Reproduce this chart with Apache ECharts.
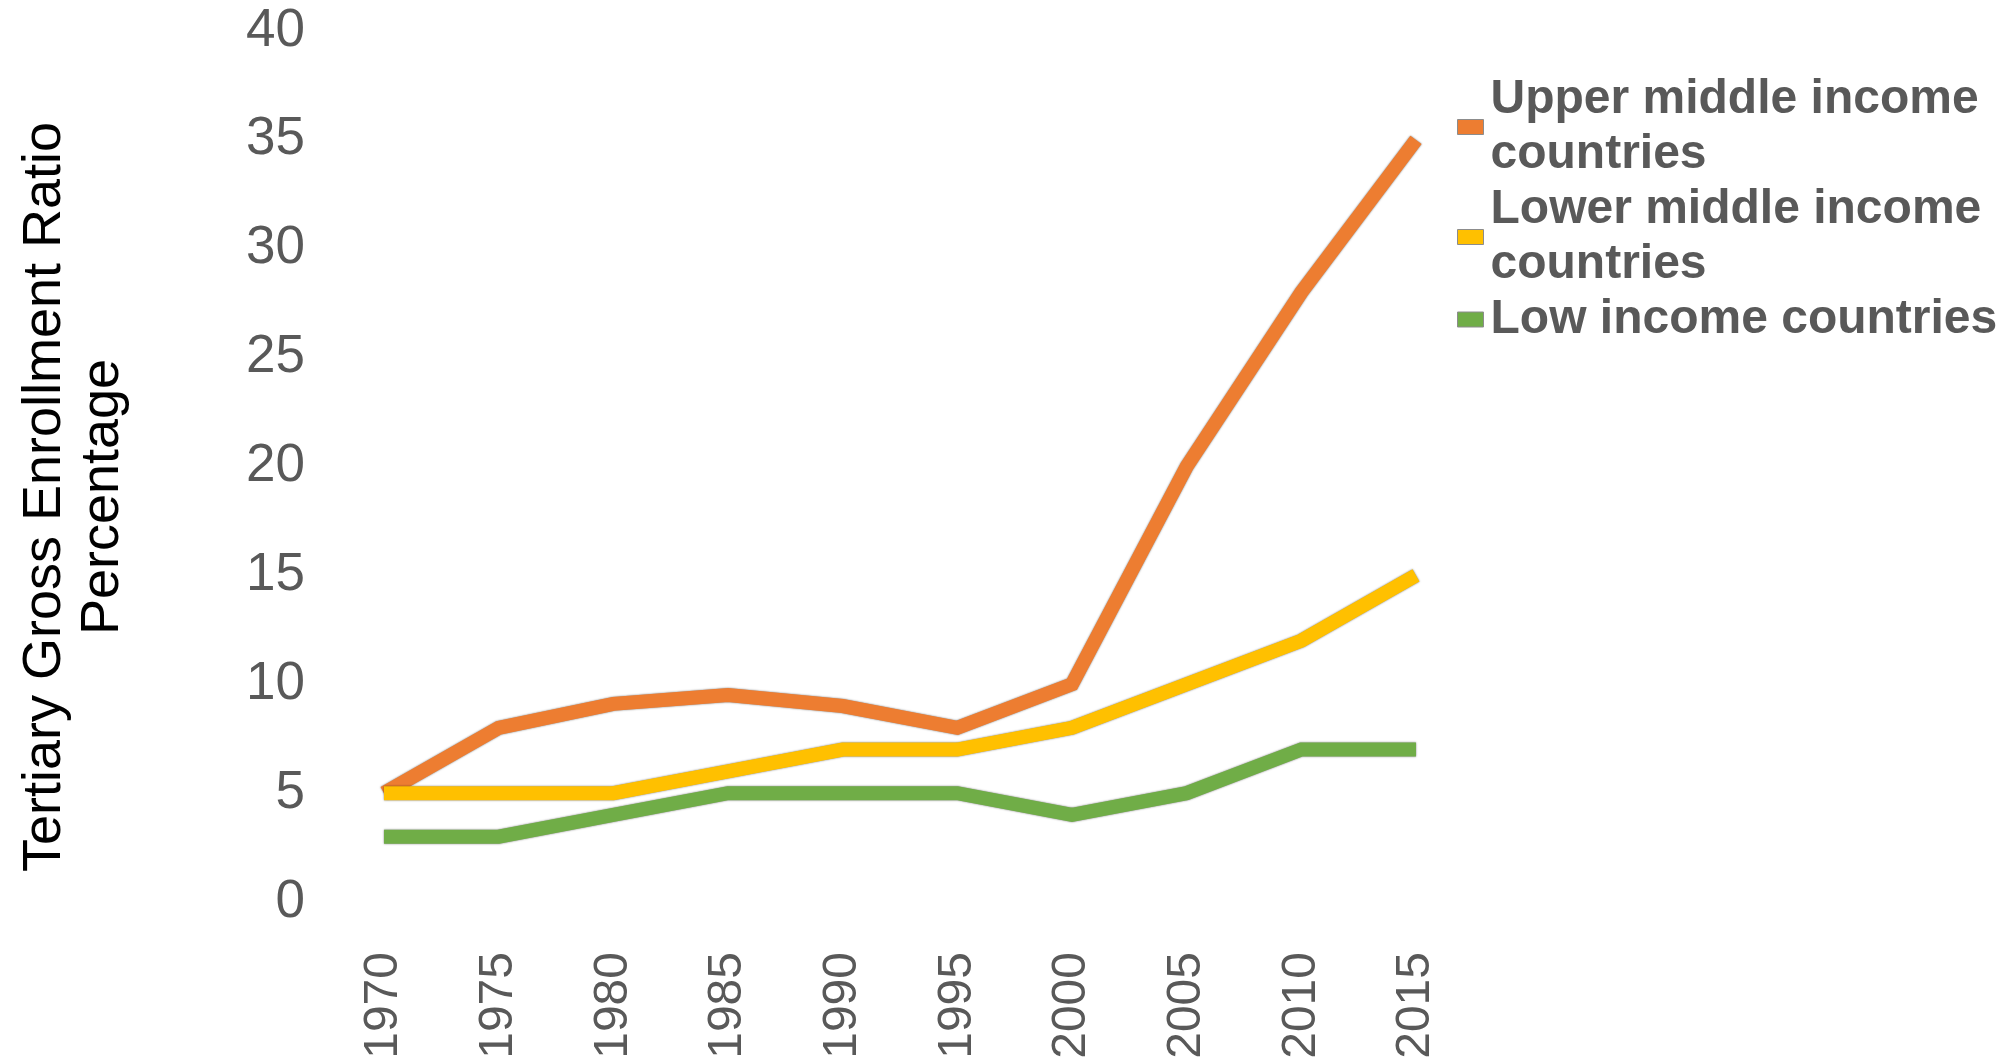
<!DOCTYPE html>
<html lang="en">
<head>
    <meta charset="UTF-8">
    <title>Tertiary Gross Enrollment Ratio</title>
    <style>
        html, body { margin: 0; padding: 0; background: #fff; }
        #main { width: 2013px; height: 1063px; }
    </style>
</head>
<body>
    <div id="main"></div>
    <script src="https://cdn.jsdelivr.net/npm/echarts@6/dist/echarts.min.js"></script>
    <script>
        // data
        var years = ['1970', '1975', '1980', '1985', '1990', '1995', '2000', '2005', '2010', '2015'];
        var upperMiddle = [5, 8, 9.1, 9.5, 9, 8, 10, 20, 28, 35];
        var lowerMiddle = [5, 5, 5, 6, 7, 7, 8, 10, 12, 15];
        var lowIncome = [3, 3, 4, 5, 5, 5, 4, 5, 7, 7];
        var yTicks = [0, 40, 5]; // min, max, step

        var fontName = 'Liberation Sans, Arial, sans-serif';
        var grey = '#595959';

        function lineSeries(name, data, color) {
            return {
                name: name,
                type: 'line',
                data: data,
                symbol: 'none',
                lineStyle: {
                    width: 14,
                    color: color,
                    cap: 'butt',
                    join: 'miter',
                    shadowColor: 'rgba(0,0,0,0.55)',
                    shadowBlur: 2
                },
                itemStyle: { color: color, borderColor: '#8c8c8c', borderWidth: 1 }
            };
        }

        var chart = echarts.init(document.getElementById('main'));

        var option = {
            animation: false,
            grid: { left: 384, right: 597, top: 31, bottom: 161 },
            graphic: [{
                type: 'text',
                x: 74,
                y: 497,
                rotation: Math.PI / 2,
                style: {
                    text: 'Tertiary Gross Enrollment Ratio\nPercentage',
                    font: '54px ' + fontName,
                    fill: '#000',
                    align: 'center',
                    verticalAlign: 'middle',
                    lineHeight: 58
                }
            }],
            legend: {
                orient: 'vertical',
                left: 1457,
                top: 72,
                padding: 0,
                itemGap: 0,
                itemWidth: 26,
                itemHeight: 15,
                icon: 'rect',
                itemStyle: { borderColor: '#8c8c8c', borderWidth: 1 },
                textStyle: {
                    fontFamily: fontName,
                    fontSize: 48,
                    fontWeight: 'bold',
                    color: grey,
                    lineHeight: 55,
                    padding: [0, 0, 0, 2]
                },
                data: ['Upper middle income\ncountries', 'Lower middle income\ncountries', 'Low income countries']
            },
            xAxis: {
                type: 'category',
                data: years,
                boundaryGap: false,
                axisLine: { show: false },
                axisTick: { show: false },
                axisLabel: {
                    rotate: 90,
                    margin: 50,
                    color: grey,
                    fontFamily: fontName,
                    fontSize: 48
                }
            },
            yAxis: {
                type: 'value',
                min: yTicks[0],
                max: yTicks[1],
                interval: yTicks[2],
                axisLine: { show: false },
                axisTick: { show: false },
                splitLine: { show: false },
                axisLabel: {
                    margin: 79,
                    color: grey,
                    fontFamily: fontName,
                    fontSize: 53
                }
            },
            series: [
                lineSeries('Upper middle income\ncountries', upperMiddle, '#ED7D31'),
                lineSeries('Lower middle income\ncountries', lowerMiddle, '#FFC000'),
                lineSeries('Low income countries', lowIncome, '#70AD47')
            ]
        };

        chart.setOption(option);
    </script>
</body>
</html>
